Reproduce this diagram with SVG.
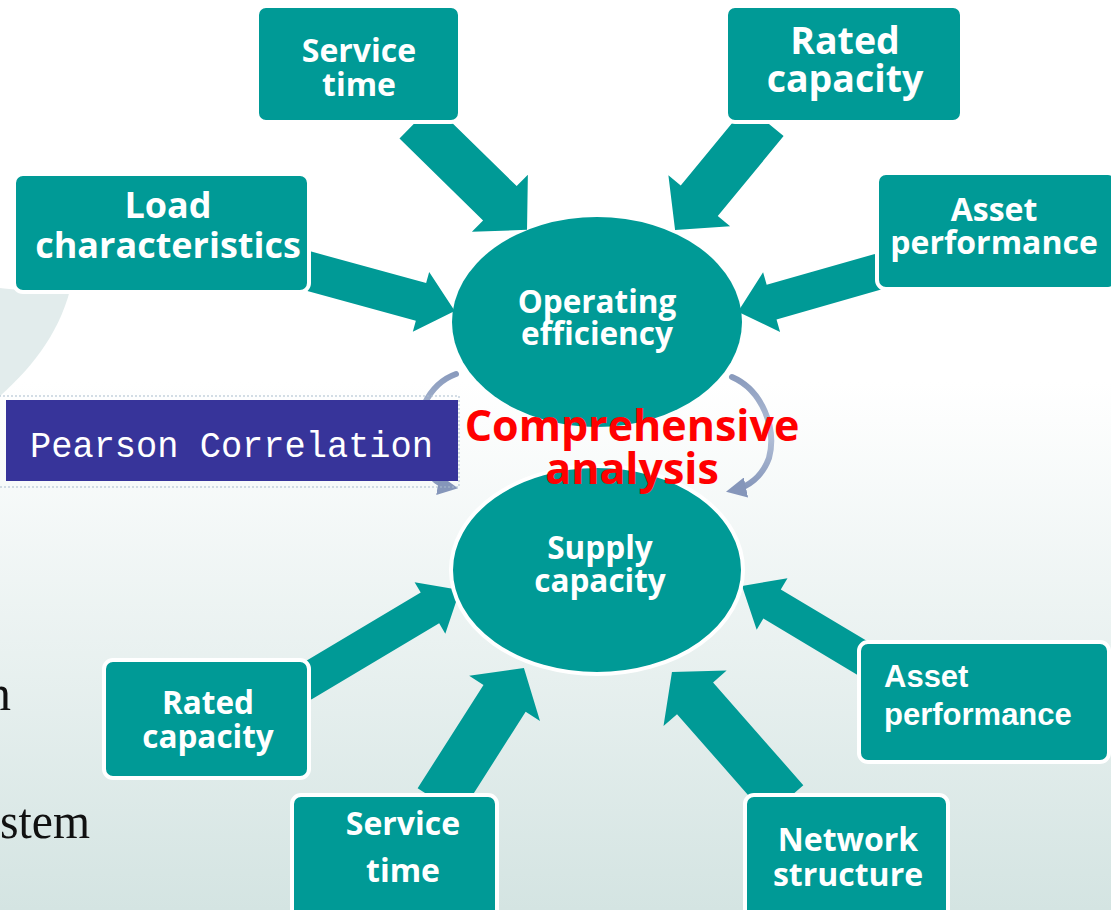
<svg xmlns="http://www.w3.org/2000/svg" width="1111" height="910" viewBox="0 0 1111 910">
  <defs>
    <linearGradient id="bg" x1="0" y1="0" x2="0" y2="1">
      <stop offset="0" stop-color="#ffffff"/>
      <stop offset="0.42" stop-color="#ffffff"/>
      <stop offset="1" stop-color="#d4e4e2"/>
    </linearGradient>
    <linearGradient id="cycle" x1="0" y1="0" x2="0" y2="1">
      <stop offset="0" stop-color="#8a9bbd"/>
      <stop offset="0.5" stop-color="#b4c1d8"/>
      <stop offset="1" stop-color="#8596ba"/>
    </linearGradient>
    <marker id="cyc-head" viewBox="0 0 10 10" refX="6" refY="5" markerWidth="3.4" markerHeight="3.4" orient="auto">
      <path d="M0,0 L10,5 L0,10 Z" fill="#8596ba"/>
    </marker>
    <style>
      .box { fill: #009a96; stroke: #ffffff; stroke-width: 4; }
      .oval { fill: #009a96; }
      .arrow { fill: #009a96; }
      .lbl { font-family: "Open Sans", "Liberation Sans", sans-serif; font-weight: 700; fill: #ffffff; text-anchor: middle; }
      .lbl-arial { font-family: "Liberation Sans", Arial, sans-serif; font-weight: 700; fill: #ffffff; }
      .red { font-family: "Open Sans", "Liberation Sans", sans-serif; font-weight: 700; fill: #ff0000; text-anchor: middle; font-size: 43px; }
      .cycle { fill: none; stroke: url(#cycle); stroke-width: 6; stroke-linecap: round; }
      .slide-txt { font-family: "Liberation Serif", serif; fill: #111111; }
    </style>
  </defs>

  <!-- backdrop -->
  <rect x="0" y="0" width="1111" height="910" fill="url(#bg)"/>
  <path d="M0,288 C28,292 56,289 72,282 C62,328 36,364 0,396 Z" fill="#cfe0df" opacity="0.6"/>

  <!-- partially visible text from the slide edge -->
  <text class="slide-txt" x="11" y="710" font-size="50" text-anchor="end">n</text>
  <text class="slide-txt" x="0" y="838" font-size="50" textLength="90" lengthAdjust="spacingAndGlyphs">stem</text>

  <!-- cycle arrows between the two ellipses -->
  <g id="cycle-arrows">
    <path class="cycle" d="M456,374 C428,384 413,418 418,448 C423,474 438,485 450,487" marker-end="url(#cyc-head)"/>
    <path class="cycle" d="M732,377 C762,390 777,428 769,458 C762,477 748,487 734,490" marker-end="url(#cyc-head)"/>
  </g>

  <!-- Pearson label -->
  <g id="pearson">
    <rect x="-5" y="396" width="464" height="91" fill="none" stroke="#a9bccd" stroke-width="1" stroke-dasharray="2,2"/>
    <rect x="6" y="400" width="452" height="81" fill="#37349a"/>
    <text x="30" y="457" font-family="Liberation Mono, DejaVu Sans Mono, monospace" font-size="37" fill="#ffffff" textLength="403" lengthAdjust="spacingAndGlyphs">Pearson Correlation</text>
  </g>

  <!-- block arrows feeding the two ellipses -->
  <g id="connectors">
    <path class="arrow" transform="translate(422,127) rotate(44.4)" d="M-8,-24 L109,-24 L109,-40 L147,0 L109,40 L109,24 L-8,24 Z"/>
    <path class="arrow" transform="translate(760,127) rotate(129.5)" d="M-8,-24 L95.5,-24 L95.5,-40 L133.5,0 L95.5,40 L95.5,24 L-8,24 Z"/>
    <path class="arrow" transform="translate(312,272) rotate(15.3)" d="M-8,-19.5 L113,-19.5 L113,-31 L148,0 L113,31 L113,19.5 L-8,19.5 Z"/>
    <path class="arrow" transform="translate(872,273.5) rotate(164.1)" d="M-8,-18 L104.4,-18 L104.4,-31 L139.4,0 L104.4,31 L104.4,18 L-8,18 Z"/>
    <path class="arrow" transform="translate(309,680) rotate(-30.8)" d="M-8,-18 L140.8,-18 L140.8,-30 L175.8,0 L140.8,30 L140.8,18 L-8,18 Z"/>
    <path class="arrow" transform="translate(443,795) rotate(-57.5)" d="M-8,-25 L114.6,-25 L114.6,-42 L150.6,0 L114.6,42 L114.6,25 L-8,25 Z"/>
    <path class="arrow" transform="translate(780,795) rotate(-131.3)" d="M-8,-24 L128.7,-24 L128.7,-42 L163.7,0 L128.7,42 L128.7,24 L-8,24 Z"/>
    <path class="arrow" transform="translate(859,656) rotate(-149.1)" d="M-8,-17 L101.3,-17 L101.3,-30 L136.3,0 L101.3,30 L101.3,17 L-8,17 Z"/>
  </g>

  <!-- central ellipses -->
  <g id="operating-efficiency">
    <ellipse class="oval" cx="597" cy="322" rx="145" ry="105"/>
    <text class="lbl" font-size="31.5"><tspan x="597" y="313">Operating</tspan><tspan x="597" y="345">efficiency</tspan></text>
  </g>
  <g id="supply-capacity">
    <ellipse class="oval" cx="597" cy="570" rx="146" ry="104" stroke="#ffffff" stroke-width="4"/>
    <text class="lbl" font-size="31.5"><tspan x="600" y="559">Supply</tspan><tspan x="600" y="592">capacity</tspan></text>
  </g>

  <!-- factor boxes -->
  <g id="service-time-top">
    <rect class="box" x="257" y="6" width="203" height="116" rx="9"/>
    <text class="lbl" font-size="32"><tspan x="359" y="62">Service</tspan><tspan x="359" y="96">time</tspan></text>
  </g>
  <g id="rated-capacity-top">
    <rect class="box" x="726" y="6" width="236" height="116" rx="9"/>
    <text class="lbl" font-size="37.5"><tspan x="845" y="54">Rated</tspan><tspan x="845" y="92">capacity</tspan></text>
  </g>
  <g id="load-characteristics">
    <rect class="box" x="14" y="174" width="295" height="118" rx="9"/>
    <text class="lbl" font-size="36"><tspan x="168" y="218">Load</tspan><tspan x="168" y="258">characteristics</tspan></text>
  </g>
  <g id="asset-performance-top">
    <rect class="box" x="877" y="173" width="240" height="116" rx="9"/>
    <text class="lbl" font-size="32"><tspan x="994" y="221">Asset</tspan><tspan x="994" y="254">performance</tspan></text>
  </g>
  <g id="rated-capacity-bottom">
    <rect class="box" x="104" y="660" width="205" height="118" rx="9"/>
    <text class="lbl" font-size="31.5"><tspan x="208" y="714">Rated</tspan><tspan x="208" y="748">capacity</tspan></text>
  </g>
  <g id="service-time-bottom">
    <rect class="box" x="292" y="795" width="205" height="125" rx="9"/>
    <text class="lbl" font-size="32"><tspan x="403" y="835">Service</tspan><tspan x="403" y="882">time</tspan></text>
  </g>
  <g id="network-structure">
    <rect class="box" x="745" y="795" width="203" height="125" rx="9"/>
    <text class="lbl" font-size="32"><tspan x="848" y="851">Network</tspan><tspan x="848" y="886">structure</tspan></text>
  </g>
  <g id="asset-performance-bottom">
    <rect class="box" x="859" y="642" width="250" height="120" rx="9"/>
    <text class="lbl-arial" font-size="31"><tspan x="884" y="687">Asset</tspan><tspan x="884" y="725">performance</tspan></text>
  </g>

  <!-- central caption -->
  <g id="comprehensive-analysis">
    <text class="red"><tspan x="632" y="441">Comprehensive</tspan><tspan x="632" y="484">analysis</tspan></text>
  </g>
</svg>
